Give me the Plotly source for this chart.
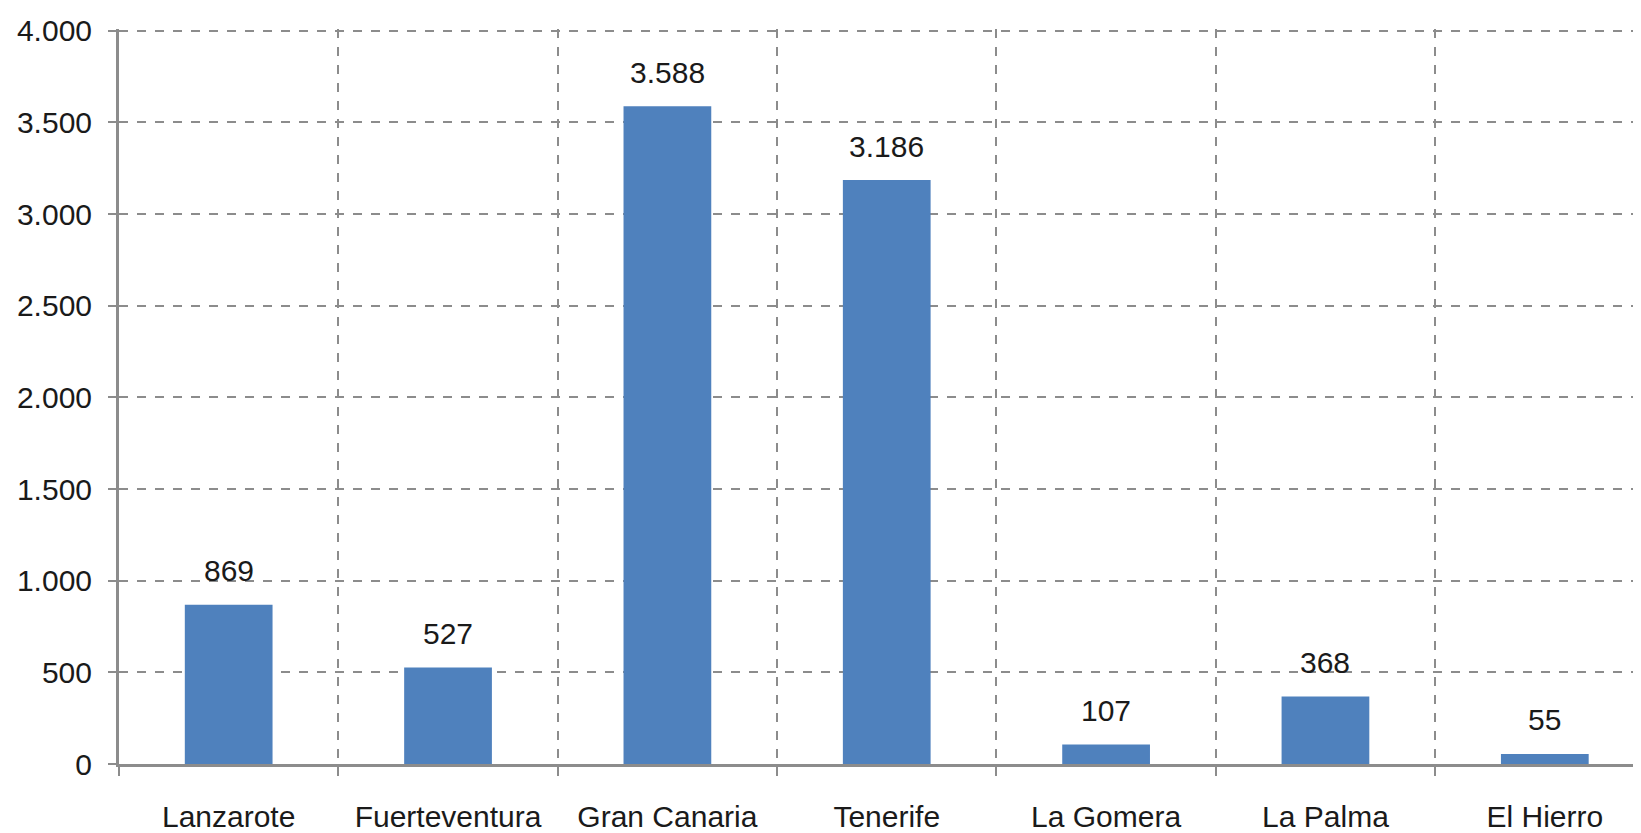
import plotly.graph_objects as go

islands = ["Lanzarote", "Fuerteventura", "Gran Canaria", "Tenerife", "La Gomera", "La Palma", "El Hierro"]
values = [869, 527, 3588, 3186, 107, 368, 55]
y_ticks = [0, 500, 1000, 1500, 2000, 2500, 3000, 3500, 4000]

def fmt(v):
    return f"{v:,}".replace(",", ".")

FONT = "Liberation Sans"
GRID = "#8c8c8c"

fig = go.Figure()
fig.add_trace(go.Bar(
    x=islands, y=values,
    marker=dict(color="#4F81BD", line=dict(width=0)),
    width=0.40,
    hoverinfo="skip",
))

for name, v in zip(islands, values):
    fig.add_annotation(x=name, y=v, text=fmt(v), showarrow=False,
                       yanchor="middle", yshift=34,
                       font=dict(family=FONT, size=30, color="#1a1a1a"))

fig.update_layout(
    width=1641, height=833,
    margin=dict(l=111, r=0, t=21, b=77),
    paper_bgcolor="white", plot_bgcolor="white",
    showlegend=False,
    separators=",.",
    font=dict(family=FONT, size=30, color="#1a1a1a"),
)
fig.update_xaxes(
    type="category", range=[-0.5, 6.475],
    tickson="boundaries", ticks="outside", ticklen=9, tickwidth=2, tickcolor=GRID,
    showgrid=True, gridcolor=GRID, griddash="dash", gridwidth=1.5,
    showline=True, linecolor=GRID, linewidth=3,
    ticklabelstandoff=24,
    tickfont=dict(family=FONT, size=30, color="#1a1a1a"),
)
fig.update_yaxes(
    range=[0, 4010], tickvals=y_ticks, ticktext=[fmt(t) for t in y_ticks],
    ticks="outside", ticklen=8, tickwidth=2, tickcolor=GRID,
    showgrid=True, gridcolor=GRID, griddash="dash", gridwidth=1.5,
    showline=True, linecolor=GRID, linewidth=3, zeroline=False,
    ticklabelstandoff=10,
    tickfont=dict(family=FONT, size=30, color="#1a1a1a"),
)

fig.write_html("out.html")
